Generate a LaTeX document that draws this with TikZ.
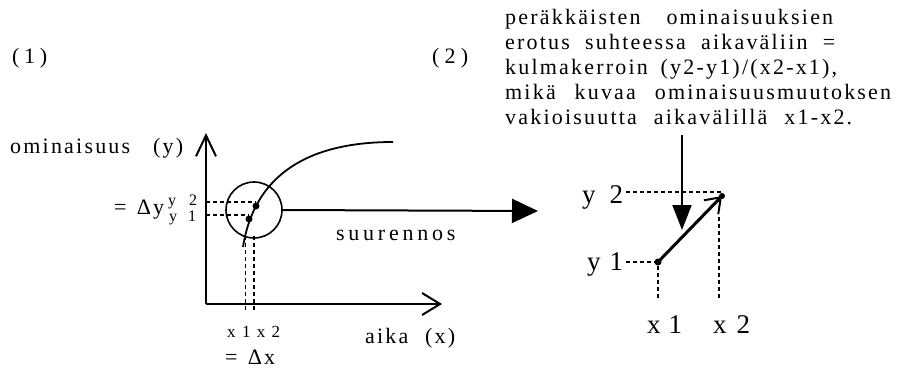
\documentclass[tikz,border=0pt]{standalone}
\usepackage{fontspec}
\setmainfont{Liberation Serif}
\newfontfamily\trk{Liberation Serif}[LetterSpace=10]
\newfontfamily\trkw{Liberation Serif}[LetterSpace=17]
\usetikzlibrary{arrows.meta}
\newcommand\wb[2]{\makebox[#1pt][s]{#2}}
\begin{document}
\begin{tikzpicture}[x=1pt,y=-1pt,
  lbl/.style={inner sep=0pt, anchor=base west, font=\trk\fontsize{22}{25}\selectfont},
  wlbl/.style={inner sep=0pt, anchor=base west, font=\trkw\fontsize{22}{25}\selectfont},
  small/.style={inner sep=0pt, anchor=base west, font=\fontsize{17}{17}\selectfont},
  big/.style={inner sep=0pt, anchor=base west, font=\fontsize{27}{27}\selectfont},
  axis/.style={line width=2pt},
  guide/.style={line width=1.3pt, dash pattern=on 4pt off 3pt},
  dot/.style={circle, fill=black, inner sep=0pt, minimum size=7pt},
]
\useasboundingbox (0,0) rectangle (897,368);
\fill[white] (0,0) rectangle (897,368);

% ---- top text
\node[lbl] (t1) at (505,24) {\wb{328}{peräkkäisten ominaisuuksien}};
\node[lbl] (t2) at (505,49) {\wb{330}{erotus suhteessa aikaväliin =}};
\node[lbl] (t3) at (505,74) {\wb{332}{kulmakerroin (y2-y1)/(x2-x1),}};
\node[lbl] (t4) at (505,99) {\wb{386}{mikä kuvaa ominaisuusmuutoksen}};
\node[lbl] (t5) at (505,124) {\wb{347}{vakioisuutta aikavälillä x1-x2.}};

\node[lbl] (n1) at (12,63) {\wb{35}{(\hfil 1\hfil)}};
\node[lbl] (n2) at (432,63) {\wb{36}{(\hfil 2\hfil)}};

% ---- left plot
\coordinate (O) at (206,304);
\coordinate (ytip) at (206,133);
\coordinate (xtip) at (442,304);
\draw[axis, -{Straight Barb[length=21pt,width=20pt,line width=2pt]}] (O) -- (ytip);
\draw[axis, -{Straight Barb[length=18pt,width=22pt,line width=2pt]}] (O) -- (xtip);

\node[lbl] (ylab) at (10,153) {\wb{173}{ominaisuus (y)}};
\node[lbl] (xlab) at (365,343) {\wb{90}{aika (x)}};

\node[draw, circle, line width=1.6pt, inner sep=0pt, minimum size=56pt] (circ) at (254,210) {};
\coordinate (c0) at (243,247);
\coordinate (c3) at (393,142);
\draw[line width=1.8pt] (c0) .. controls (256,165) and (322,142) .. (c3);

\node[dot] (q2) at (256,206) {};
\node[dot] (q1) at (249,219) {};

\coordinate (hy2) at (206,202);
\coordinate (hy1) at (206,215);
\draw[guide] (hy2) -- (hy2 -| q2);
\draw[guide] (hy1) -- (hy1 -| q1);
\coordinate (vx1) at (245.5,236);
\coordinate (vx2) at (254,236);
\coordinate (vbot) at (0,312);
\draw[guide] (vx1) -- (vx1 |- vbot);
\draw[guide] (vx2) -- (vx2 |- vbot);

\node[lbl] (dy) at (114,214) {\wb{50}{= Δy}};
\node[small, font=\fontsize{16}{14}\selectfont, align=left] (syy) at (168,221)
  {\wb{29}{y 2}\\\wb{28}{\hspace{1pt}y 1}};
\node[small] (sx) at (227,337) {\wb{53}{x 1 x 2}};
\node[lbl] (dx) at (225,364) {\wb{50}{= Δx}};

% ---- magnification arrow
\coordinate (zt) at (538,211);
\draw[axis, -{Triangle[length=26pt,width=24pt]}] (circ.east) -- (zt);
\node[wlbl] (zoom) at (336,240) {suurennos};

% ---- right detail
\node[dot] (P1) at (658,262) {};
\node[dot, minimum size=6pt] (P2) at (722,196) {};

\node[big] (ry2) at (582,203) {\wb{41}{y 2}};
\node[big] (ry1) at (587,270) {\wb{36}{y 1}};
\node[big] (rx1) at (647,333) {\wb{35}{x 1}};
\node[big] (rx2) at (713,333) {\wb{37}{x 2}};

\coordinate (h2) at (626,192);
\coordinate (h1) at (626,262);
\draw[guide] (h2) -- (h2 -| P2);
\draw[guide] (h1) -- (P1);
\coordinate (rb) at (0,300);
\draw[guide] (P1) -- (P1 |- rb);
\coordinate (v2t) at (719,217);
\draw[guide] (v2t) -- (v2t |- rb);

\draw[line width=3pt, -{Straight Barb[length=14pt,width=20pt,line width=2pt]}] (P1.center) -- (P2.center);

\coordinate (a0) at (682,135);
\coordinate (a1) at (682,230);
\draw[axis, -{Triangle[length=25pt,width=19pt]}] (a0) -- (a1);
\end{tikzpicture}
\end{document}
